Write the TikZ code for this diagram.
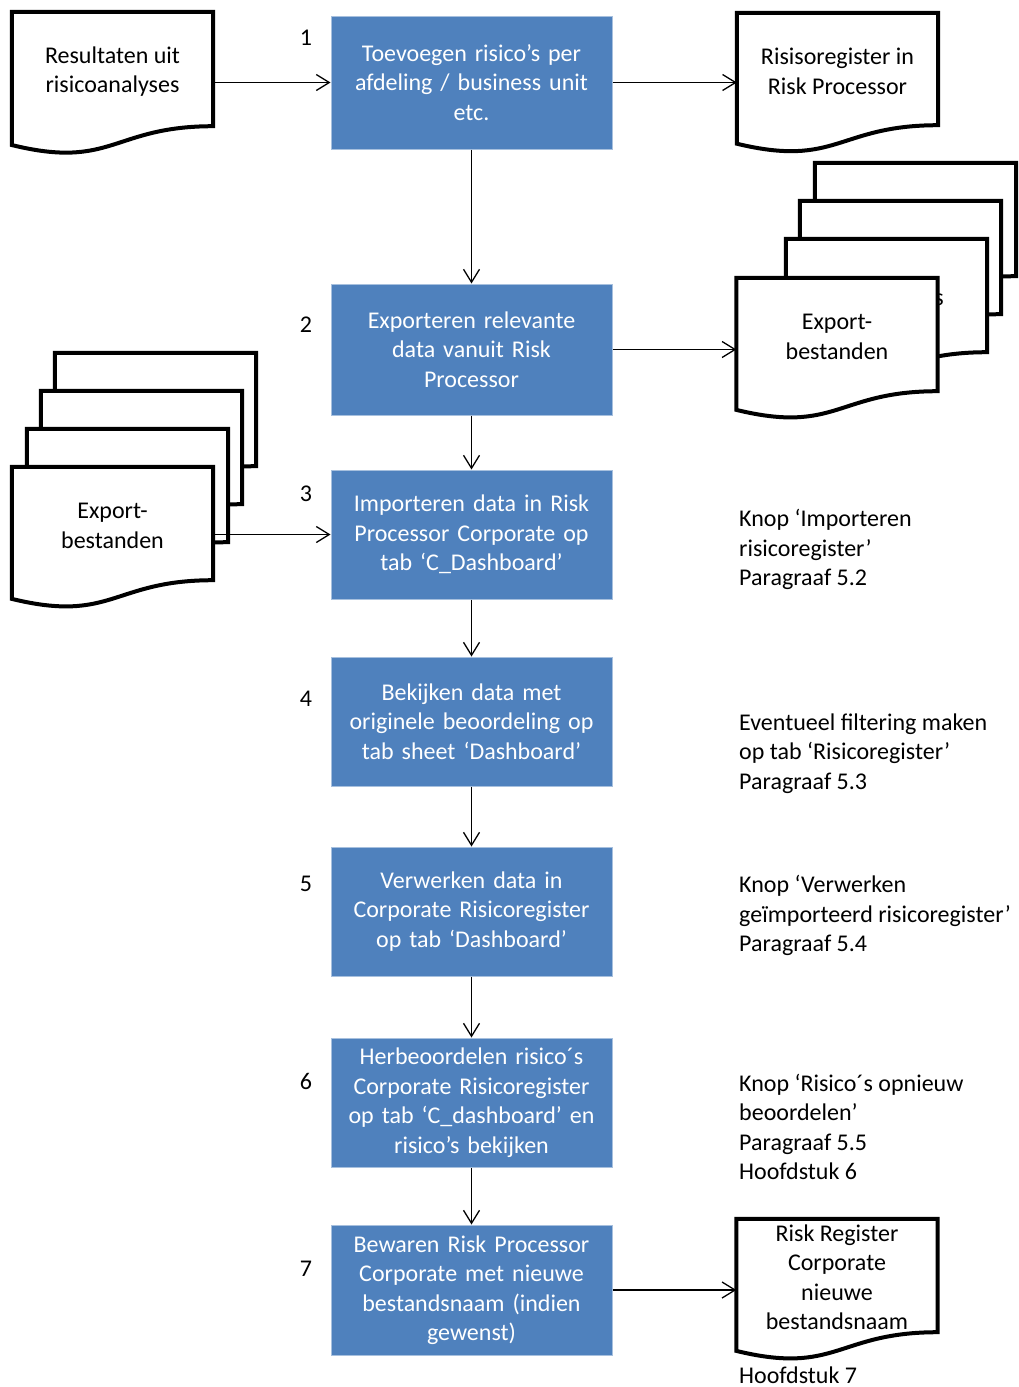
\documentclass[tikz,border=0pt]{standalone}
\usepackage{fontspec}
\setmainfont{Carlito}
\usetikzlibrary{arrows.meta,calc}
\pgfdeclarelayer{background}
\pgfsetlayers{background,main}
\definecolor{boxblue}{HTML}{4F81BD}
\definecolor{boxedge}{HTML}{A7C0DE}
\newcommand{\docoutline}[1]{%
  \begin{pgfonlayer}{background}
  \filldraw[docline] ($(#1.north west)!1.1646!(#1.south west)$) -- (#1.north west) -- (#1.north east) -- (#1.south east)
    .. controls (#1.south) and ($(#1.north)!1.381!(#1.south)$) .. ($(#1.north west)!1.1646!(#1.south west)$) -- cycle;
  \end{pgfonlayer}}
\begin{document}
\begin{tikzpicture}[x=1pt,y=-1pt,
  txt/.style={font=\fontsize{24}{29.5}\selectfont},
  docbox/.style={rectangle,inner sep=0pt,minimum width=201pt,draw=none},
  doctext/.style={txt,align=center,text=black,inner sep=0pt,yshift=-2.5pt},
  docline/.style={draw=black,fill=white,line width=4pt,line join=miter},
  stepbox/.style={txt,rectangle,fill=boxblue,draw=boxedge,line width=1pt,minimum width=281pt,
    text width=279pt,align=center,inner sep=0pt,text=white},
  numlabel/.style={txt,text=black,inner sep=0pt},
  note/.style={txt,align=left,text=black,inner sep=0pt,anchor=west},
  arr/.style={line width=1.3pt,-{Straight Barb[length=13pt,width=16pt]}}]
\useasboundingbox (0,0) rectangle (1019,1387);

% process steps
\node[stepbox,minimum height=133pt] (b1) at (471.5,82.5) {Toevoegen risico’s per\\afdeling / business unit\\etc.};
\node[stepbox,minimum height=131pt] (b2) at (471.5,349.5) {Exporteren relevante\\data vanuit Risk\\Processor};
\node[stepbox,minimum height=129pt] (b3) at (471.5,534.5) {Importeren data in Risk\\Processor Corporate op\\tab ‘C\_Dashboard’};
\node[stepbox,minimum height=129pt] (b4) at (471.5,721.5) {Bekijken data met\\originele beoordeling op\\tab sheet ‘Dashboard’};
\node[stepbox,minimum height=129pt] (b5) at (471.5,911.5) {Verwerken data in\\Corporate Risicoregister\\op tab ‘Dashboard’};
\node[stepbox,minimum height=129pt] (b6) at (471.5,1102.5) {Herbeoordelen risico´s\\Corporate Risicoregister\\op tab ‘C\_dashboard’ en\\risico’s bekijken};
\node[stepbox,minimum height=130pt] (b7) at (471.5,1290) {Bewaren Risk Processor\\Corporate met nieuwe\\bestandsnaam (indien\\gewenst)};

% step numbers
\node[numlabel] (n1) at (306,38) {1};
\node[numlabel] (n2) at (306,325) {2};
\node[numlabel] (n3) at (306,494) {3};
\node[numlabel] (n4) at (306,699) {4};
\node[numlabel] (n5) at (306,884) {5};
\node[numlabel] (n6) at (306,1081) {6};
\node[numlabel] (n7) at (306,1269) {7};

% documents
\node[docbox,minimum height=114pt] (d1) at (112.5,69) {};
\node[doctext] (d1t) at (d1) {Resultaten uit\\risicoanalyses};
\docoutline{d1}

\node[docbox,minimum height=112pt] (d2) at (837.5,69) {};
\node[doctext] (d2t) at (d2) {Risisoregister in\\Risk Processor};
\docoutline{d2}

% right stack
\node[docbox,minimum height=113pt] (r1) at (915.5,219.5) {};
\node[docbox,minimum height=113pt] (r2) at (900.5,257.5) {};
\node[docbox,minimum height=113pt] (r3) at (886.5,295.5) {};
\docoutline{r1}
\docoutline{r2}
\docoutline{r3}
\begin{pgfonlayer}{background}
\node[txt,inner sep=0pt,anchor=base] (sfrag) at (939,305) {s};
\end{pgfonlayer}
\node[docbox,minimum height=113pt] (d3) at (837,334.5) {};
\node[doctext] (d3t) at (d3) {Export-\\bestanden};
\docoutline{d3}

% left stack
\node[docbox,minimum height=113pt] (l1) at (155.5,409.5) {};
\node[docbox,minimum height=113pt] (l2) at (141.5,447.5) {};
\node[docbox,minimum height=113pt] (l3) at (127.5,485.5) {};
\docoutline{l1}
\docoutline{l2}
\docoutline{l3}
\node[docbox,minimum height=113pt] (d4) at (112.5,523.5) {};
\node[doctext] (d4t) at (d4) {Export-\\bestanden};
\docoutline{d4}

\node[docbox,minimum height=113pt] (d5) at (837,1275.5) {};
\node[doctext,yshift=1pt] (d5t) at (d5) {Risk Register\\Corporate\\nieuwe\\bestandsnaam};
\docoutline{d5}

% notes
\node[note] (t3) at (739,549.5) {Knop ‘Importeren\\risicoregister’\\Paragraaf 5.2};
\node[note] (t4) at (739,753.5) {Eventueel filtering maken\\op tab ‘Risicoregister’\\Paragraaf 5.3};
\node[note] (t5) at (739,915.5) {Knop ‘Verwerken\\geïmporteerd risicoregister’\\Paragraaf 5.4};
\node[note] (t6) at (739,1127) {Knop ‘Risico´s opnieuw\\beoordelen’\\Paragraaf 5.5\\Hoofdstuk 6};
\node[note] (t7) at (739,1375) {Hoofdstuk 7};

% connectors
\draw[arr] (b1.west -| d1.east) -- (b1.west);
\draw[arr] (b1.east) -- (b1.east -| d2.west);
\draw[arr] (b1.south) -- (b2.north);
\draw[arr] (b2.east) -- (b2.east -| d3.west);
\draw[arr] (b2.south) -- (b3.north);
\draw[arr] (b3.west -| d4.east) -- (b3.west);
\draw[arr] (b3.south) -- (b4.north);
\draw[arr] (b4.south) -- (b5.north);
\draw[arr] (b5.south) -- (b6.north);
\draw[arr] (b6.south) -- (b7.north);
\draw[arr] (b7.east) -- (b7.east -| d5.west);
\end{tikzpicture}
\end{document}
